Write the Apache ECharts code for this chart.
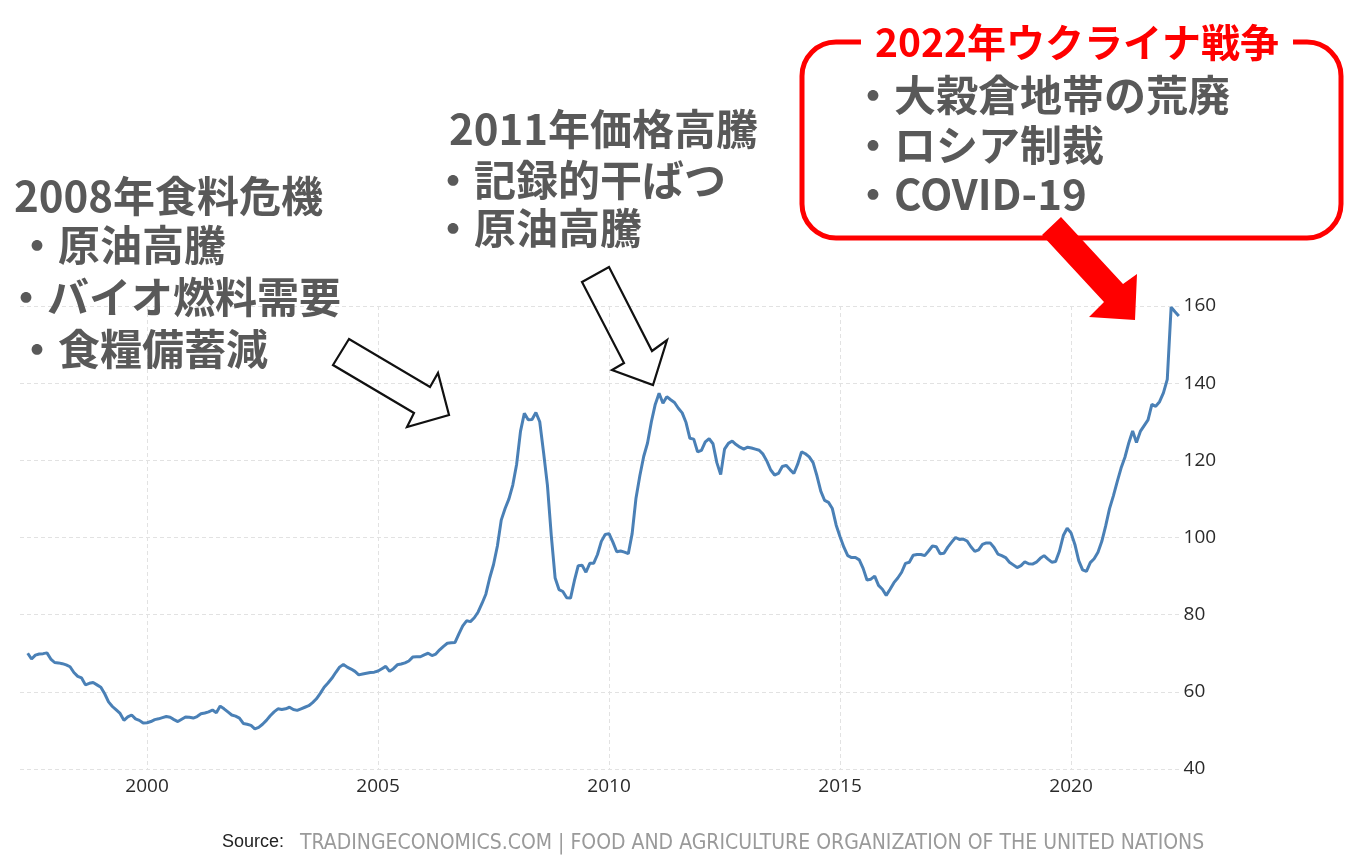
<!DOCTYPE html>
<html>
<head>
<meta charset="utf-8">
<title>FAO Food Price Index</title>
<script src="https://cdn.jsdelivr.net/npm/echarts/dist/echarts.min.js"></script>
<style>
  html, body { margin: 0; padding: 0; background: #fff; }
  #chart { width: 1346px; height: 857px; }
</style>
</head>
<body>
<div id="chart"></div>
<script>
// FAO Food Price Index, monthly, first observation June 1997
const startYear = 1997;
const startMonth = 6;

const foodPriceIndex = [
  // 1997 (Jun-Dec)
  70.0, 68.5, 69.5, 69.8, 69.9, 70.1, 68.5,
  // 1998
  67.6, 67.5, 67.3, 67.0, 66.5, 65.0, 64.0, 63.6, 61.8, 62.2, 62.4, 61.8,
  // 1999
  61.2, 59.5, 57.4, 56.2, 55.3, 54.4, 52.6, 53.5, 54.0, 53.0, 52.6, 51.9,
  // 2000
  52.0, 52.3, 52.8, 53.0, 53.3, 53.6, 53.4, 52.8, 52.3, 52.9, 53.5, 53.4,
  // 2001
  53.2, 53.6, 54.3, 54.5, 54.8, 55.3, 54.6, 56.3, 55.6, 54.8, 54.0, 53.7,
  // 2002
  53.2, 51.8, 51.6, 51.3, 50.4, 50.8, 51.6, 52.6, 53.8, 54.8, 55.6, 55.4,
  // 2003
  55.6, 56.0, 55.4, 55.2, 55.6, 56.0, 56.4, 57.2, 58.2, 59.6, 61.2, 62.3,
  // 2004
  63.5, 65.0, 66.4, 67.1, 66.4, 65.9, 65.3, 64.4, 64.6, 64.8, 65.0, 65.1,
  // 2005
  65.4, 66.0, 66.6, 65.3, 66.0, 67.0, 67.2, 67.5, 68.0, 69.0, 69.1, 69.1,
  // 2006
  69.6, 70.0, 69.4, 69.8, 70.9, 71.8, 72.6, 72.7, 72.8, 75.0, 77.1, 78.4,
  // 2007
  78.2, 79.2, 80.7, 82.9, 85.3, 89.5, 93.0, 97.8, 104.5, 107.5, 110.0, 113.6,
  // 2008
  119.0, 127.5, 132.2, 130.5, 130.6, 132.4, 130.0, 122.0, 113.5, 100.5, 89.5, 86.5,
  // 2009
  86.0, 84.4, 84.3, 88.8, 92.7, 92.8, 91.0, 93.3, 93.3, 95.6, 99.0, 100.8,
  // 2010
  101.0, 98.8, 96.3, 96.5, 96.2, 95.8, 101.0, 110.2, 116.0, 121.0, 124.5, 130.0,
  // 2011
  134.5, 137.4, 134.8, 136.5, 135.7, 135.0, 133.5, 132.3, 129.8, 125.7, 125.5, 122.2,
  // 2012
  122.6, 124.8, 125.6, 124.3, 119.4, 116.3, 122.9, 124.4, 125.0, 124.1, 123.4, 122.9,
  // 2013
  123.4, 123.2, 122.9, 122.6, 121.6, 119.8, 117.5, 116.2, 116.6, 118.4, 118.7, 117.6,
  // 2014
  116.6, 119.0, 122.2, 121.7, 120.9, 119.4, 116.0, 112.0, 109.6, 109.1, 107.5, 103.2,
  // 2015
  100.2, 97.5, 95.3, 94.8, 94.8, 94.2, 92.0, 89.0, 89.2, 90.0, 87.6, 86.6,
  // 2016
  85.0, 86.6, 88.3, 89.5, 91.0, 93.3, 93.6, 95.4, 95.6, 95.6, 95.3, 96.5,
  // 2017
  97.8, 97.6, 95.8, 95.9, 97.5, 98.8, 100.0, 99.5, 99.6, 99.1, 97.6, 96.4,
  // 2018
  96.8, 98.2, 98.6, 98.6, 97.4, 95.7, 95.3, 94.8, 93.6, 92.9, 92.2, 92.7,
  // 2019
  93.7, 93.2, 93.1, 93.6, 94.6, 95.3, 94.4, 93.6, 93.8, 96.5, 100.5, 102.4,
  // 2020
  101.2, 98.2, 94.0, 91.6, 91.2, 93.5, 94.5, 96.2, 99.0, 103.0, 107.5, 110.8,
  // 2021
  114.5, 118.0, 120.8, 124.5, 127.6, 124.6, 127.5, 129.0, 130.5, 134.5, 134.0, 135.2,
  // 2022 (Jan-May)
  137.5, 141.0, 159.7, 158.5, 157.4
];

const yearTicks = [2000, 2005, 2010, 2015, 2020];
const valueTicks = { min: 40, max: 160, interval: 20 };

const notes2008 = ['2008年食料危機', '・原油高騰', '・バイオ燃料需要', '・食糧備蓄減'];
const notes2011 = ['2011年価格高騰', '・記録的干ばつ', '・原油高騰'];
const notes2022Title = '2022年ウクライナ戦争';
const notes2022 = ['・大穀倉地帯の荒廃', '・ロシア制裁', '・COVID-19'];
const sourceLabel = 'Source:';
const sourceText = 'TRADINGECONOMICS.COM | FOOD AND AGRICULTURE ORGANIZATION OF THE UNITED NATIONS';

// each observation placed at its fractional year on the time axis
const seriesData = foodPriceIndex.map((v, i) => [startYear + (startMonth - 1 + i) / 12, v]);

const JP = '"Noto Sans CJK JP", "Noto Sans CJK SC", sans-serif';
const noteColor = '#595959';
const gridLine = { show: true, lineStyle: { color: '#e2e2e2', type: [4, 3], width: 1 } };

function noteText(text, x, y, size, color) {
  return {
    type: 'text', x: x, y: y, z: 20,
    style: { text: text, fill: color || noteColor, font: 'bold ' + (size || 42) + 'px ' + JP,
             align: 'left', verticalAlign: 'middle' }
  };
}

const graphics = [];
// 2008 block
graphics.push(noteText(notes2008[0], 14, 196));
graphics.push(noteText(notes2008[1], 16, 245));
graphics.push(noteText(notes2008[2], 5, 297));
graphics.push(noteText(notes2008[3], 16, 349));
// 2011 block
graphics.push(noteText(notes2011[0], 449, 129));
graphics.push(noteText(notes2011[1], 432, 180));
graphics.push(noteText(notes2011[2], 432, 228));
// 2022 block: rounded frame with the title breaking its top edge
graphics.push({
  type: 'rect', z: 15,
  shape: { x: 802, y: 42, width: 539, height: 196, r: 34 },
  style: { fill: 'none', stroke: '#ff0000', lineWidth: 5 }
});
graphics.push({
  type: 'text', x: 1077, y: 42, z: 20,
  style: { text: notes2022Title, fill: '#ff0000', font: 'bold 39px ' + JP,
           align: 'center', verticalAlign: 'middle', backgroundColor: '#fff', padding: [0, 14] }
});
graphics.push(noteText(notes2022[0], 852, 95));
graphics.push(noteText(notes2022[1], 852, 145));
graphics.push(noteText(notes2022[2], 852, 194));

// outlined pointer arrows
graphics.push({
  type: 'polygon', z: 18,
  shape: { points: [[349, 339], [333, 365], [414, 413], [407, 427], [449, 415], [438, 373], [430, 387]] },
  style: { fill: 'none', stroke: '#111', lineWidth: 2.2, lineJoin: 'miter' }
});
graphics.push({
  type: 'polygon', z: 18,
  shape: { points: [[582, 282], [609, 267], [652, 351], [667, 340], [653, 385], [612, 370], [624, 363]] },
  style: { fill: 'none', stroke: '#111', lineWidth: 2.2, lineJoin: 'miter' }
});
// solid red arrow toward the 2022 spike
graphics.push({
  type: 'polygon', z: 19,
  shape: { points: [[1042, 235], [1061, 217], [1123, 284], [1137, 274], [1135, 320], [1089, 317], [1104, 302]] },
  style: { fill: '#ff0000', stroke: 'none' }
});

// source line
graphics.push({
  type: 'text', x: 222, y: 842, z: 20,
  style: { text: sourceLabel, fill: '#222', font: '18px "Liberation Sans", Arial, sans-serif',
           align: 'left', verticalAlign: 'middle' }
});
graphics.push({
  type: 'text', x: 300, y: 844, z: 20,
  style: { text: sourceText, fill: '#9a9a9a',
           font: '21px "Liberation Sans Narrow", "DejaVu Sans Condensed", sans-serif',
           align: 'left', verticalAlign: 'middle' }
});

const chart = echarts.init(document.getElementById('chart'), null, { renderer: 'canvas' });
chart.setOption({
  animation: false,
  backgroundColor: '#ffffff',
  grid: { left: 20, right: 166.4, top: 306, bottom: 88, containLabel: false },
  xAxis: {
    type: 'value',
    min: 1997.25,
    max: 2022.35,
    axisLine: { show: false },
    axisTick: { show: false, customValues: yearTicks },
    splitLine: Object.assign({ customValues: yearTicks }, gridLine),
    axisLabel: {
      customValues: yearTicks,
      formatter: v => String(Math.round(v)),
      color: '#2a2a2a', fontSize: 19, fontFamily: '"Open Sans", sans-serif', margin: 8
    }
  },
  yAxis: {
    type: 'value',
    position: 'right',
    min: valueTicks.min,
    max: valueTicks.max,
    interval: valueTicks.interval,
    axisLine: { show: false },
    axisTick: { show: false },
    splitLine: gridLine,
    axisLabel: { color: '#2a2a2a', fontSize: 19, fontFamily: '"Open Sans", sans-serif', margin: 4 }
  },
  series: [{
    type: 'line',
    data: seriesData,
    showSymbol: false,
    symbol: 'none',
    lineStyle: { color: '#4a80b6', width: 3 },
    z: 5
  }],
  graphic: graphics
});
</script>
</body>
</html>
